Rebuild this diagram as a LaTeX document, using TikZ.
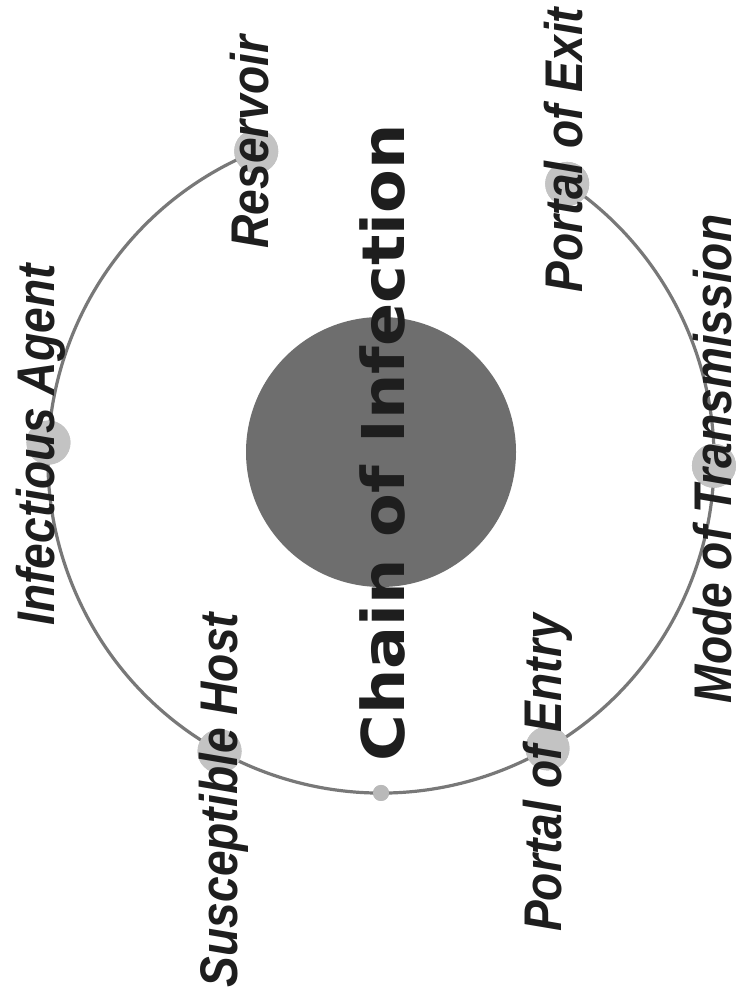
\documentclass[tikz,border=0pt]{standalone}
\usepackage{fontspec}
\newfontfamily\lblfont[FakeStretch=0.87]{Liberation Sans}
\newfontfamily\titlefont[FakeStretch=1.08]{DejaVu Sans}
\definecolor{discgray}{RGB}{110,110,110}
\definecolor{ringgray}{RGB}{120,120,120}
\definecolor{blobgray}{RGB}{195,195,195}
\definecolor{inkgray}{RGB}{30,30,30}
\begin{document}
\begin{tikzpicture}[x=1pt,y=1pt,
  ring/.style={draw=ringgray,line width=3.2pt},
  blob/.style={circle,fill=blobgray,draw=none,minimum size=44pt,inner sep=0pt},
  smallblob/.style={circle,fill=gray!55,draw=none,minimum size=16pt,inner sep=0pt},
  lbl/.style={rotate=90,inner sep=0pt,text=inkgray,font=\lblfont\bfseries\itshape\fontsize{53}{60}\selectfont},
  ttl/.style={rotate=90,inner sep=0pt,text=inkgray,font=\titlefont\bfseries\fontsize{59}{66}\selectfont}]
\useasboundingbox (0,0) rectangle (743,1000);
\fill[white] (0,0) rectangle (743,1000);
% centres
\coordinate (rc) at (381,540);
\node[circle,fill=discgray,draw=none,minimum size=270pt,inner sep=0pt] (disc) at (381,548) {};
% blobs on the ring
\node[blob] (bRes) at ([shift={(112:333pt)}]rc) {};
\node[blob] (bInf) at ([shift={(177:333pt)}]rc) {};
\node[blob] (bSus) at ([shift={(241:333pt)}]rc) {};
\node[smallblob] (bBot) at ([shift={(270:333pt)}]rc) {};
\node[blob] (bEnt) at ([shift={(300:333pt)}]rc) {};
\node[blob] (bMod) at ([shift={(359:333pt)}]rc) {};
\node[blob] (bExi) at ([shift={(56:333pt)}]rc) {};
% ring (open at the top)
\draw[ring] (bRes.center) arc[start angle=112,end angle=416,radius=333pt];
\node[blob] at (bRes) {};
\node[blob] at (bInf) {};
\node[blob] at (bSus) {};
\node[smallblob] at (bBot) {};
\node[blob] at (bEnt) {};
\node[blob] at (bMod) {};
\node[blob] at (bExi) {};
% labels
\node[lbl] (tRes) at (250,858) {Reservoir};
\node[lbl] (tInf) at (41,555) {Infectious Agent};
\node[lbl] (tSus) at (224,200) {Susceptible Host};
\node[lbl] (tEnt) at (548,227) {Portal of Entry};
\node[lbl] (tMod) at (713,541) {Mode of Transmission};
\node[lbl] (tExi) at (564,850) {Portal of Exit};
\node[ttl] (tTitle) at (382,557) {Chain of Infection};
\end{tikzpicture}
\end{document}
